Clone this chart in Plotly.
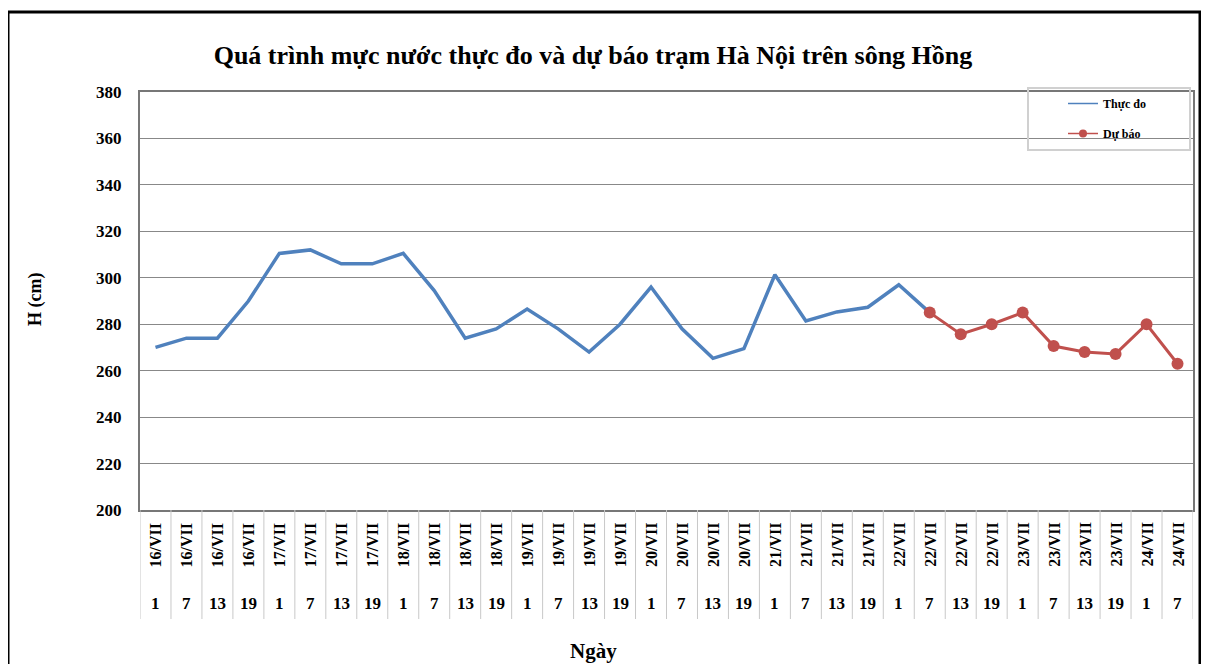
import plotly.graph_objects as go

# ---- data ----
dates = ["16/VII"] * 4 + ["17/VII"] * 4 + ["18/VII"] * 4 + ["19/VII"] * 4 + \
        ["20/VII"] * 4 + ["21/VII"] * 4 + ["22/VII"] * 4 + ["23/VII"] * 4 + ["24/VII"] * 2
hours = ["1", "7", "13", "19"] * 8 + ["1", "7"]
observed = [270, 274, 274, 290, 310.5, 312, 306, 306, 310.5, 294.5, 274, 278,
            286.5, 278, 268, 280, 296, 278, 265.3, 269.5, 301.3, 281.4, 285.3, 287.3,
            297, 285]
forecast_idx = list(range(25, 34))
forecast = [285, 275.7, 280, 285, 270.6, 268, 267.2, 280, 263]
y_ticks = list(range(200, 381, 20))

FONT = "Liberation Serif, Times New Roman, serif"
OFF = 8  # page body margin
W, H = 1209 - OFF, 664 - OFF
PX0, PX1, PY0, PY1 = 140, 1193, 92, 510
L, T = PX0 - OFF, PY0 - OFF
R = W - (PX1 - OFF)
B = H - (PY1 - OFF)
pw, ph = PX1 - PX0, PY1 - PY0

def px_x(px):
    return (px - PX0) / pw

def px_y(py):
    return (PY1 - py) / ph

n = len(dates)
x = list(range(n))

BLUE, RED = "#4F81BD", "#C0504D"
fig = go.Figure()
fig.add_trace(go.Scatter(
    x=x[:len(observed)], y=observed, mode="lines", name="Thực đo", showlegend=False,
    line=dict(color=BLUE, width=3.5)))
fig.add_trace(go.Scatter(
    x=forecast_idx, y=forecast, mode="lines+markers", name="Dự báo", showlegend=False,
    line=dict(color=RED, width=3), marker=dict(size=12, color=RED)))
# legend entries (thin samples as in the reference)
fig.add_trace(go.Scatter(x=[None], y=[None], mode="lines", name="<b>Thực đo</b>",
                         line=dict(color=BLUE, width=1.5), legendgroup="a"))
fig.add_trace(go.Scatter(x=[None], y=[None], mode="lines+markers", name="<b>Dự báo</b>",
                         line=dict(color=RED, width=1.5), marker=dict(size=8, color=RED),
                         legendgroup="b"))

shapes = []
annotations = []
for i in range(n + 1):
    shapes.append(dict(type="line", xref="x", yref="paper", x0=i - 0.5, x1=i - 0.5,
                       y0=0, y1=px_y(619), line=dict(color="#c8c8c8", width=1)))
for i in range(n):
    annotations.append(dict(x=i, xref="x", y=px_y(545), yref="paper", text=f"<b>{dates[i]}</b>",
                            textangle=-90, showarrow=False, xanchor="center", yanchor="middle",
                            font=dict(family=FONT, size=16, color="black")))
    annotations.append(dict(x=i, xref="x", y=px_y(603), yref="paper", text=f"<b>{hours[i]}</b>",
                            showarrow=False, xanchor="center", yanchor="middle",
                            font=dict(family=FONT, size=17, color="black")))

annotations.append(dict(x=px_x(35), xref="paper", y=px_y(300), yref="paper", text="<b>H (cm)</b>",
                        textangle=-90, showarrow=False, xanchor="center", yanchor="middle",
                        font=dict(family=FONT, size=18, color="black")))
annotations.append(dict(x=px_x(593), xref="paper", y=px_y(651), yref="paper", text="<b>Ngày</b>",
                        showarrow=False, xanchor="center", yanchor="middle",
                        font=dict(family=FONT, size=21, color="black")))

shapes.append(dict(type="rect", xref="paper", yref="paper", x0=px_x(8), x1=px_x(1200),
                   y0=px_y(720), y1=px_y(12), line=dict(color="black", width=3)))
shapes.append(dict(type="rect", xref="paper", yref="paper", x0=px_x(1028), x1=px_x(1190),
                   y0=px_y(150), y1=px_y(88), line=dict(color="#d0d0d0", width=2)))

fig.update_layout(
    width=W, height=H,
    margin=dict(l=L, r=R, t=T, b=B, pad=0),
    paper_bgcolor="white", plot_bgcolor="white",
    font=dict(family=FONT, color="black"),
    title=dict(text="<b>Quá trình mực nước thực đo và dự báo trạm Hà Nội trên sông Hồng</b>",
               x=(593 - OFF) / W, xanchor="center", y=1 - (55 - OFF) / H, yanchor="middle",
               font=dict(family=FONT, size=26, color="black")),
    showlegend=True,
    legend=dict(x=px_x(1063), y=px_y(89), xanchor="left", yanchor="top",
                bgcolor="rgba(0,0,0,0)", borderwidth=0, tracegroupgap=11,
                font=dict(family=FONT, size=12, color="black")),
    xaxis=dict(range=[-0.5, n - 0.5], showticklabels=False, showgrid=False, zeroline=False,
               showline=True, mirror=True, linecolor="#777777", linewidth=2, ticks=""),
    yaxis=dict(range=[200, 380], tickvals=y_ticks, ticktext=[f"<b>{v}</b>" for v in y_ticks],
               showgrid=True, gridcolor="#888888", gridwidth=1, zeroline=False,
               showline=True, mirror=True, linecolor="#777777", linewidth=2, ticks="",
               ticklabelstandoff=13, tickfont=dict(family=FONT, size=17, color="black")),
    shapes=shapes, annotations=annotations,
)
fig.update_traces(cliponaxis=False)

fig.write_html("out.html")
